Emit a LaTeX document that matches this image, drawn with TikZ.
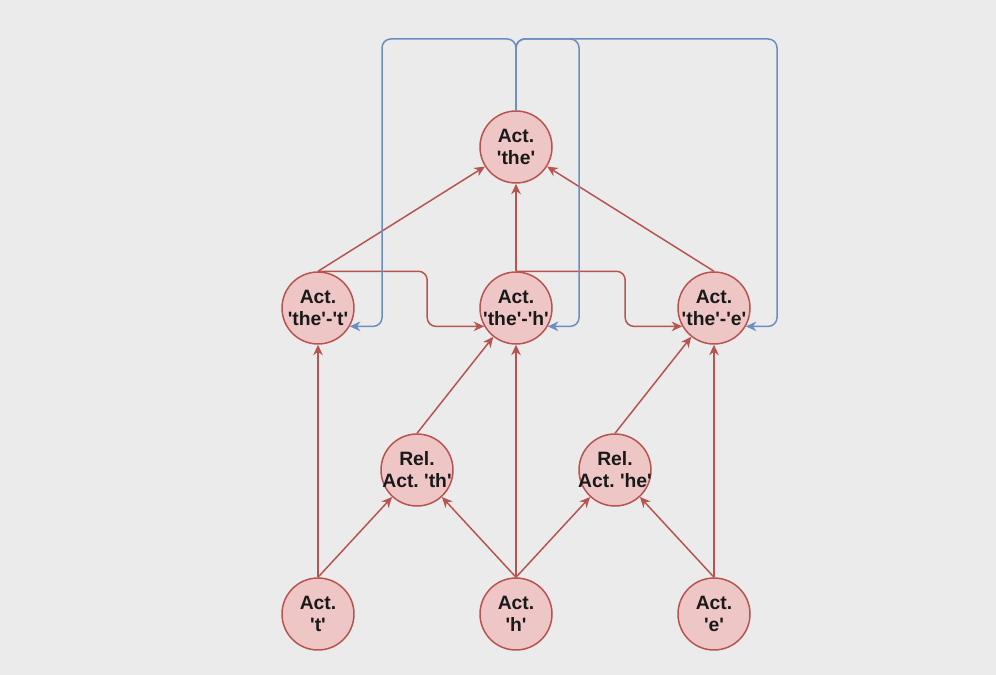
\documentclass[tikz,border=0pt]{standalone}
\usepackage{fontspec}
\setmainfont{Liberation Sans}
\usetikzlibrary{arrows.meta,calc}
\definecolor{bgGrey}{HTML}{EBEBEB}
\definecolor{actFill}{HTML}{EEC6C6}
\definecolor{actLine}{HTML}{B85450}
\definecolor{loopLine}{HTML}{6C8EBF}
\newcommand{\q}{\textquotesingle}
\begin{document}
\begin{tikzpicture}[x=0.02cm, y=-0.02cm,
		act/.style={circle, draw=actLine, fill=actFill, line width=0.85pt, minimum size=1.44cm, inner sep=-3pt,
			align=center, font=\fontsize{11}{12.6}\selectfont\bfseries, text=black!90},
		redarrow/.style={draw=actLine, line width=0.85pt, -{Stealth[length=6pt, width=5.5pt]}},
		bluearrow/.style={draw=loopLine, line width=0.85pt, rounded corners=5, -{Stealth[length=6pt, width=5.5pt]}}]
	\fill[bgGrey] (0,0) rectangle (996,675);
	
	\node[act] (actThe) at (516,147) {Act.\\\q the\q};
	
	\node[act] (actTheT) at (318,308) {Act.\\\q the\q-\q t\q};
	\node[act] (actTheH) at (516,308) {Act.\\\q the\q-\q h\q};
	\node[act] (actTheE) at (714,308) {Act.\\\q the\q-\q e\q};
	
	\node[act] (relTh) at (417,470) {Rel.\\Act.\ \q th\q};
	\node[act] (relHe) at (615,470) {Rel.\\Act.\ \q he\q};
	
	\node[act] (actT) at (318,614) {Act.\\\q t\q};
	\node[act] (actH) at (516,614) {Act.\\\q h\q};
	\node[act] (actE) at (714,614) {Act.\\\q e\q};
	
	\draw[redarrow] (actT.north) -- (actTheT);
	\draw[redarrow] (actT.north) -- (relTh);
	\draw[redarrow] (actH.north) -- (relTh);
	\draw[redarrow] (actH.north) -- (actTheH);
	\draw[redarrow] (actH.north) -- (relHe);
	\draw[redarrow] (actE.north) -- (relHe);
	\draw[redarrow] (actE.north) -- (actTheE);
	
	\draw[redarrow] (relTh.north) -- (actTheH);
	\draw[redarrow] (relHe.north) -- (actTheE);
	
	\draw[redarrow] (actTheT.north) -- (actThe);
	\draw[redarrow] (actTheH.north) -- (actThe);
	\draw[redarrow] (actTheE.north) -- (actThe);
	
	\draw[redarrow, rounded corners=5] (actTheT.north) -| ($(actTheH.210)+(-57,0)$) -- (actTheH.210);
	\draw[redarrow, rounded corners=5] (actTheH.north) -| ($(actTheE.210)+(-57,0)$) -- (actTheE.210);
	
	\draw[bluearrow] (actThe.north) |- (382,39) |- (actTheT.330);
	\draw[bluearrow] (actThe.north) |- (579,39) |- (actTheH.330);
	\draw[bluearrow] (actThe.north) |- (777,39) |- (actTheE.330);
\end{tikzpicture}
\end{document}
